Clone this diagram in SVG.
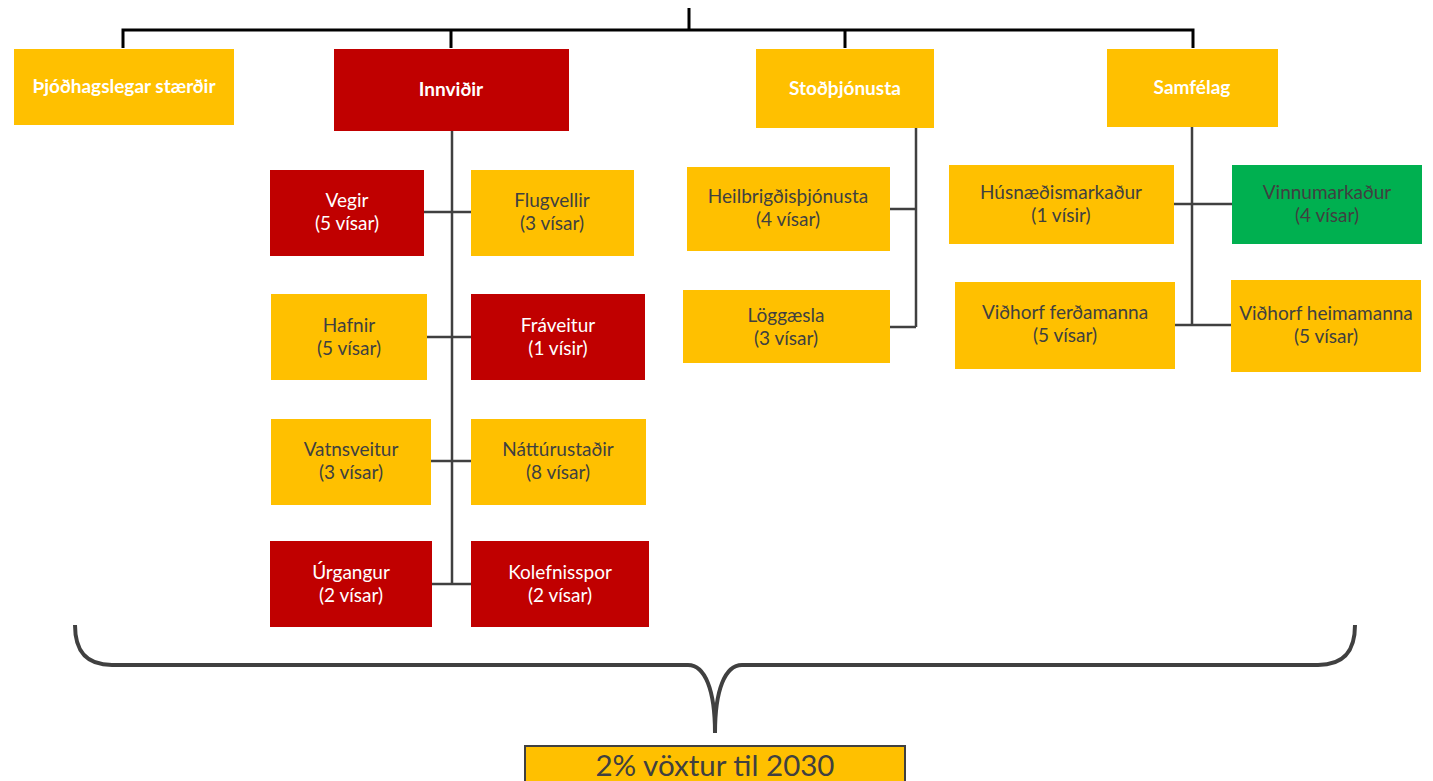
<svg xmlns="http://www.w3.org/2000/svg" width="1433" height="781" viewBox="0 0 1433 781">
<style>
.y{fill:#FFC000}.r{fill:#C00000}.g{fill:#00B050}
text{font-family:Lato,"Open Sans","Liberation Sans",sans-serif;text-anchor:middle}
.h{font-size:19px;font-weight:bold;fill:#fff}
.c{font-size:19px;fill:#404040}
.w{fill:#fff}
.top{stroke:#000;stroke-width:3;fill:none}
.ln{stroke:#404040;stroke-width:2.5;fill:none}
</style>
<rect width="1433" height="781" fill="#fff"/>
<g id="connectors">
<path class="top" d="M689 8V30M123 48V30H1193V48M451 30V48M845 30V48"/>
<path class="ln" d="M452 131V584M424 212H471M427 337H471M431 461H471M432 584H471"/>
<path class="ln" d="M916 128V327M890 209H916M890 327H916"/>
<path class="ln" d="M1192 127V325M1174 204H1232M1175 325H1231"/>
<path d="M75 625C75 650 85 665 112 665H688C705 665 715 690 715 733C715 690 725 665 742 665H1318C1345 665 1355 650 1355 625" stroke="#404040" stroke-width="4" fill="none"/>
</g>
<g id="n-thjodhags"><rect class="y" x="14" y="49" width="220" height="76"/><text class="h" x="124" y="93">Þjóðhagslegar stærðir</text></g>
<g id="n-innvidir"><rect class="r" x="334" y="49" width="235" height="82"/><text class="h" x="451" y="96">Innviðir</text></g>
<g id="n-stod"><rect class="y" x="756" y="49" width="178" height="79"/><text class="h" x="845" y="95">Stoðþjónusta</text></g>
<g id="n-samfelag"><rect class="y" x="1107" y="49" width="171" height="78"/><text class="h" x="1192" y="94">Samfélag</text></g>
<g id="n-vegir"><rect class="r" x="270" y="170" width="154" height="86"/><text class="c w" x="347" y="207">Vegir</text><text class="c w" x="347" y="230">(5 vísar)</text></g>
<g id="n-flug"><rect class="y" x="471" y="170" width="163" height="86"/><text class="c" x="552" y="207">Flugvellir</text><text class="c" x="552" y="230">(3 vísar)</text></g>
<g id="n-hafnir"><rect class="y" x="271" y="294" width="156" height="86"/><text class="c" x="349" y="332">Hafnir</text><text class="c" x="349" y="355">(5 vísar)</text></g>
<g id="n-fraveitur"><rect class="r" x="471" y="294" width="174" height="86"/><text class="c w" x="558" y="332">Fráveitur</text><text class="c w" x="558" y="355">(1 vísir)</text></g>
<g id="n-vatn"><rect class="y" x="271" y="419" width="160" height="86"/><text class="c" x="351" y="456">Vatnsveitur</text><text class="c" x="351" y="479">(3 vísar)</text></g>
<g id="n-nattura"><rect class="y" x="471" y="419" width="175" height="86"/><text class="c" x="558" y="456">Náttúrustaðir</text><text class="c" x="558" y="479">(8 vísar)</text></g>
<g id="n-urgangur"><rect class="r" x="270" y="541" width="162" height="86"/><text class="c w" x="351" y="579">Úrgangur</text><text class="c w" x="351" y="602">(2 vísar)</text></g>
<g id="n-kolefni"><rect class="r" x="471" y="541" width="178" height="86"/><text class="c w" x="560" y="579">Kolefnisspor</text><text class="c w" x="560" y="602">(2 vísar)</text></g>
<g id="n-heil"><rect class="y" x="687" y="167" width="203" height="84"/><text class="c" x="788" y="203">Heilbrigðisþjónusta</text><text class="c" x="788" y="226">(4 vísar)</text></g>
<g id="n-logg"><rect class="y" x="683" y="290" width="207" height="73"/><text class="c" x="786" y="322">Löggæsla</text><text class="c" x="786" y="345">(3 vísar)</text></g>
<g id="n-husn"><rect class="y" x="949" y="165" width="225" height="79"/><text class="c" x="1061" y="199">Húsnæðismarkaður</text><text class="c" x="1061" y="222">(1 vísir)</text></g>
<g id="n-vinnu"><rect class="g" x="1232" y="165" width="190" height="79"/><text class="c" x="1327" y="199">Vinnumarkaður</text><text class="c" x="1327" y="222">(4 vísar)</text></g>
<g id="n-vferd"><rect class="y" x="955" y="282" width="220" height="87"/><text class="c" x="1065" y="319">Viðhorf ferðamanna</text><text class="c" x="1065" y="342">(5 vísar)</text></g>
<g id="n-vheim"><rect class="y" x="1231" y="280" width="190" height="92"/><text class="c" x="1326" y="320">Viðhorf heimamanna</text><text class="c" x="1326" y="343">(5 vísar)</text></g>
<g id="n-voxtur"><rect class="y" x="525" y="746" width="380" height="40" stroke="#404040" stroke-width="2"/><text x="715" y="776" style="font-size:29.5px;fill:#404040">2% vöxtur til 2030</text></g>
</svg>
